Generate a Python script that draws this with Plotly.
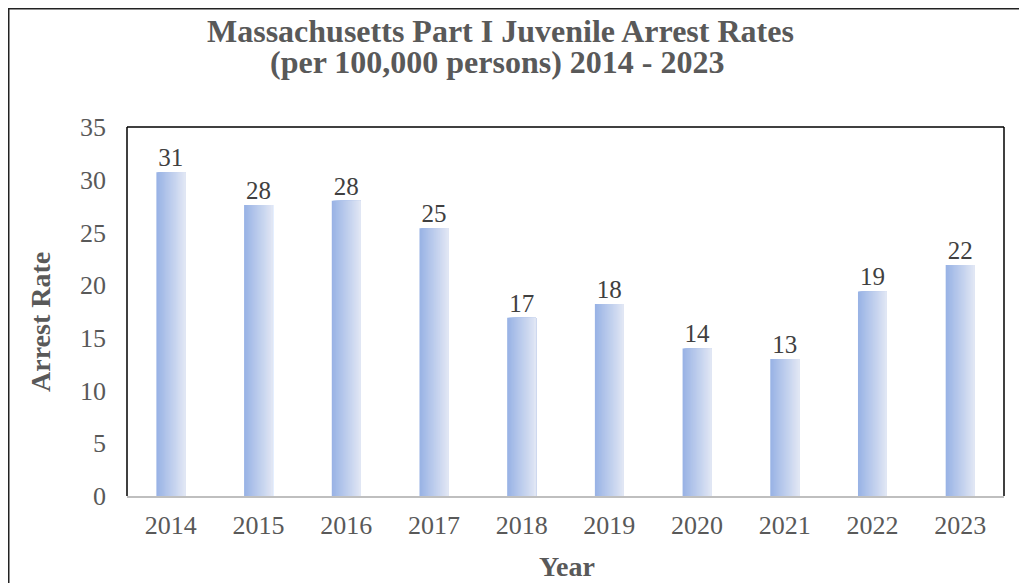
import plotly.graph_objects as go

years = ["2014", "2015", "2016", "2017", "2018", "2019", "2020", "2021", "2022", "2023"]
arrest_rates = [30.7, 27.6, 28.0, 25.4, 16.9, 18.2, 14.0, 13.0, 19.4, 21.9]
y_ticks = [0, 5, 10, 15, 20, 25, 30, 35]
title_lines = ["Massachusetts Part I Juvenile Arrest Rates", "(per 100,000 persons) 2014 - 2023"]
x_title = "Year"
y_title = "Arrest Rate"

FONT = "Liberation Serif, Times New Roman, serif"
OFF = 8  # page body margin
W, H = 1027 - OFF, 583 - OFF
ML, MT = 127 - OFF, 127 - OFF
MR = W - (1004 - OFF)
MB = H - (496 - OFF)
PW, PH = W - ML - MR, H - MT - MB


def px_x(x):
    return (x - OFF - ML) / PW


def px_y(y):
    return (H - MB - (y - OFF)) / PH


bar_w = 0.33
n_slices = 24
c0 = (153, 179, 229)
c1 = (224, 230, 244)

fig = go.Figure()
for i in range(n_slices):
    t = i / (n_slices - 1)
    col = "rgb(%d,%d,%d)" % tuple(round(a + (b - a) * t) for a, b in zip(c0, c1))
    w = bar_w / n_slices
    fig.add_trace(go.Bar(
        x=years, y=arrest_rates,
        width=bar_w - i * w, offset=-bar_w / 2 + i * w,
        marker=dict(color=col, line=dict(width=0)),
        hoverinfo="skip", showlegend=False,
    ))

fig.add_trace(go.Scatter(
    x=years, y=arrest_rates, mode="text",
    text=[f"{v:.0f}" for v in arrest_rates],
    textposition="top center",
    textfont=dict(family=FONT, size=25, color="#404040"),
    showlegend=False, hoverinfo="skip",
))

annotations = [
    dict(text=title_lines[0], x=px_x(500), y=px_y(31), xref="paper", yref="paper",
         xanchor="center", yanchor="middle", showarrow=False,
         font=dict(family=FONT, size=32, color="#595959", weight="bold")),
    dict(text=title_lines[1], x=px_x(497), y=px_y(62), xref="paper", yref="paper",
         xanchor="center", yanchor="middle", showarrow=False,
         font=dict(family=FONT, size=32, color="#595959", weight="bold")),
    dict(text=x_title, x=px_x(567), y=px_y(566), xref="paper", yref="paper",
         xanchor="center", yanchor="middle", showarrow=False,
         font=dict(family=FONT, size=28, color="#595959", weight="bold")),
    dict(text=y_title, x=px_x(40), y=px_y(322), xref="paper", yref="paper",
         xanchor="center", yanchor="middle", showarrow=False, textangle=-90,
         font=dict(family=FONT, size=28, color="#595959", weight="bold")),
]

fig.update_layout(
    width=W, height=H,
    barmode="overlay",
    paper_bgcolor="white", plot_bgcolor="white",
    margin=dict(l=ML, r=MR, t=MT, b=MB),
    font=dict(family=FONT, color="#595959"),
    xaxis=dict(
        type="category", automargin=False,
        showgrid=False, zeroline=False,
        showline=True, linecolor="#bfbfbf", linewidth=1.5,
        ticks="", ticklabelstandoff=5,
        tickfont=dict(family=FONT, size=26, color="#595959"),
    ),
    yaxis=dict(
        range=[0, 35], tickvals=y_ticks, automargin=False,
        showgrid=False, zeroline=False, showline=False,
        ticks="", ticklabelstandoff=20,
        tickfont=dict(family=FONT, size=26, color="#595959"),
    ),
    annotations=annotations,
    shapes=[
        dict(type="line", xref="paper", yref="paper", x0=0, x1=1, y0=1, y1=1,
             line=dict(color="black", width=1.5)),
        dict(type="line", xref="paper", yref="paper", x0=0, x1=0, y0=0, y1=1,
             line=dict(color="black", width=1.5)),
        dict(type="line", xref="paper", yref="paper", x0=1, x1=1, y0=0, y1=1,
             line=dict(color="black", width=1.5)),
        dict(type="rect", xref="paper", yref="paper",
             x0=px_x(8.75), x1=px_x(1027 + 20), y0=px_y(583 + 20), y1=px_y(8.75),
             line=dict(color="#222222", width=1.5), fillcolor="rgba(0,0,0,0)"),
    ],
)

fig.write_html("out.html")
